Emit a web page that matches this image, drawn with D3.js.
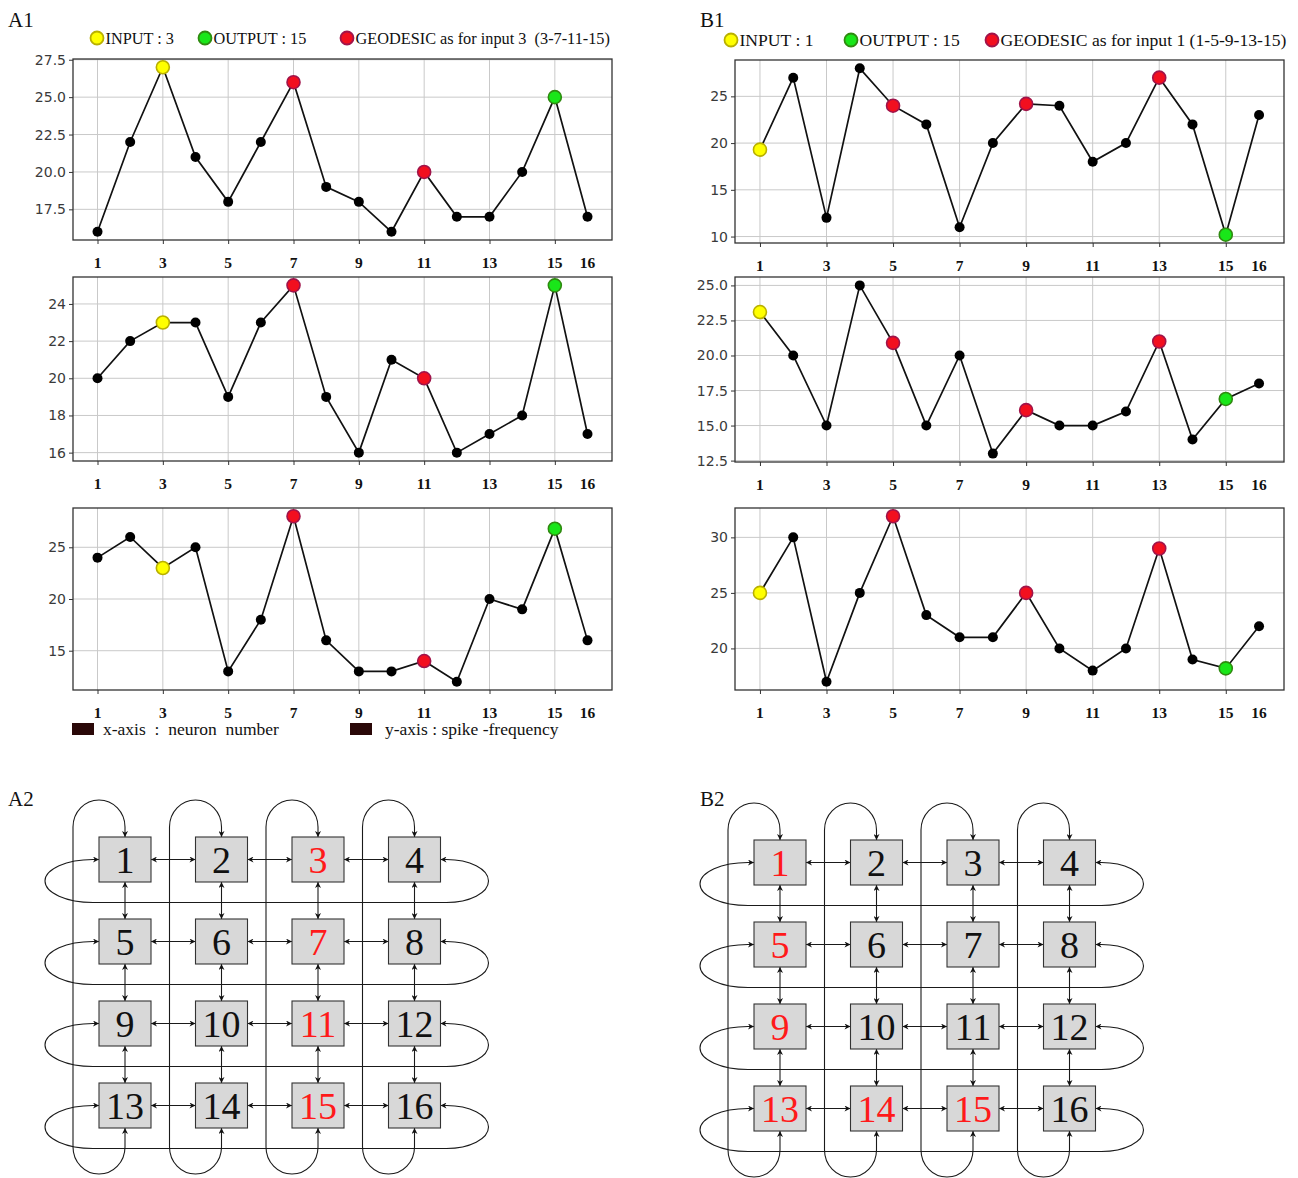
<!DOCTYPE html>
<html><head><meta charset="utf-8">
<script src="https://cdn.jsdelivr.net/npm/d3@7/dist/d3.min.js"></script>
<style>body{margin:0;background:#fff}svg{display:block}</style>
</head><body>
<svg id="fig" width="1298" height="1178"></svg>
<script>
// ---------------- data ----------------
const neurons = [1,2,3,4,5,6,7,8,9,10,11,12,13,14,15,16];
const a1Top = [16,22,27,21,18,22,26,19,18,16,20,17,17,20,25,17];
const a1Mid = [20,22,23,23,19,23,25,19,16,21,20,16,17,18,25,17];
const a1Bot = [24,26,23,25,13,18,28,16,13,13,14,12,20,19,26.8,16];
const b1Top = [19.3,27,12,28,24,22,11,20,24.2,24,18,20,27,22,10.2,23];
const b1Mid = [23.1,20,15,25,20.9,15,20,13,16.1,15,15,16,21,14,16.9,18];
const b1Bot = [25,30,17,25,31.9,23,21,21,25,20,18,20,29,19,18.2,22];
const a1TopTicks = [17.5,20,22.5,25,27.5];
const a1MidTicks = [16,18,20,22,24];
const a1BotTicks = [15,20,25];
const b1TopTicks = [10,15,20,25];
const b1MidTicks = [12.5,15,17.5,20,22.5,25];
const b1BotTicks = [20,25,30];
const xGridValues = [1,3,5,7,9,11,13,15];
const xTickLabels = [1,3,5,7,9,11,13,15,16];
const inputA = 3, outputA = 15, geodesicA = [7,11];
const inputB = 1, outputB = 15, geodesicB = [5,9,13];
const legendA = ["INPUT : 3","OUTPUT : 15","GEODESIC as for input 3  (3-7-11-15)"];
const legendB = ["INPUT : 1","OUTPUT : 15","GEODESIC as for input 1 (1-5-9-13-15)"];
const axisNotes = ["x-axis  :  neuron  number","y-axis : spike -frequency"];
const gridNodes = [1,2,3,4,5,6,7,8,9,10,11,12,13,14,15,16];
const redA2 = [3,7,11,15];
const redB2 = [1,5,9,13,14,15];

// ---------------- styles ----------------
const SERIF = "'Liberation Serif','Times New Roman',serif";
const SANS = "'DejaVu Sans',sans-serif";
const COL = {
  yellow:{fill:"#ffff00",stroke:"#b9b000"},
  green:{fill:"#19e619",stroke:"#2f8a10"},
  red:{fill:"#f20f1f",stroke:"#a0144a"}
};
const svg = d3.select("#fig");

function panel(opt){
  const g = svg.append("g");
  const x = d3.scaleLinear().domain([0.25,16.75]).range([opt.x0,opt.x1]);
  const [mn,mx] = d3.extent(opt.values);
  const pad = (mx-mn)*0.05;
  const y = d3.scaleLinear().domain([mn-pad,mx+pad]).range([opt.y1,opt.y0]);
  g.selectAll(".gx").data(xGridValues).join("line")
    .attr("x1",d=>x(d)).attr("x2",d=>x(d)).attr("y1",opt.y0).attr("y2",opt.y1)
    .attr("stroke","#c9c9c9").attr("stroke-width",1);
  g.selectAll(".gy").data(opt.ticks).join("line")
    .attr("x1",opt.x0).attr("x2",opt.x1).attr("y1",d=>y(d)).attr("y2",d=>y(d))
    .attr("stroke","#c9c9c9").attr("stroke-width",1);
  const ya = g.append("g").attr("transform",`translate(${opt.x0},0)`)
    .call(d3.axisLeft(y).tickValues(opt.ticks).tickFormat(d3.format(opt.fmt)).tickSize(4).tickPadding(3));
  ya.select(".domain").remove();
  ya.selectAll("line").attr("stroke","#333");
  ya.selectAll("text").attr("font-family",SANS).attr("font-size",14).attr("fill","#3a3a3a");
  const xa = g.append("g").attr("transform",`translate(0,${opt.y1})`)
    .call(d3.axisBottom(x).tickValues(xGridValues).tickFormat("").tickSize(4));
  xa.select(".domain").remove();
  xa.selectAll("line").attr("stroke","#333");
  g.selectAll(".xl").data(xTickLabels).join("text")
    .attr("x",d=>x(d)).attr("y",opt.y1+28).attr("text-anchor","middle")
    .attr("font-family",SERIF).attr("font-weight","bold").attr("font-size",15.5)
    .attr("fill","#111").text(d=>d);
  g.append("rect").attr("x",opt.x0).attr("y",opt.y0)
    .attr("width",opt.x1-opt.x0).attr("height",opt.y1-opt.y0)
    .attr("fill","none").attr("stroke","#333").attr("stroke-width",1.3);
  const pts = neurons.map((n,i)=>[n,opt.values[i]]);
  g.append("path").datum(pts)
    .attr("d",d3.line().x(d=>x(d[0])).y(d=>y(d[1])))
    .attr("fill","none").attr("stroke","#111").attr("stroke-width",1.7);
  const kind = n => n===opt.input?"yellow":n===opt.output?"green":opt.geo.includes(n)?"red":null;
  g.selectAll(".pt").data(pts.filter(p=>!kind(p[0]))).join("circle")
    .attr("cx",d=>x(d[0])).attr("cy",d=>y(d[1])).attr("r",5).attr("fill","#000");
  g.selectAll(".hp").data(pts.filter(p=>kind(p[0]))).join("circle")
    .attr("cx",d=>x(d[0])).attr("cy",d=>y(d[1])).attr("r",6.5)
    .attr("fill",d=>COL[kind(d[0])].fill).attr("stroke",d=>COL[kind(d[0])].stroke).attr("stroke-width",1.6);
}

function legend(items, xs, cy, size){
  const keys = ["yellow","green","red"];
  items.forEach((t,i)=>{
    svg.append("circle").attr("cx",xs[i]).attr("cy",cy).attr("r",6.5)
      .attr("fill",COL[keys[i]].fill).attr("stroke",COL[keys[i]].stroke).attr("stroke-width",1.8);
    svg.append("text").attr("x",xs[i]+8.5).attr("y",cy+5.5).attr("xml:space","preserve")
      .style("white-space","pre")
      .attr("font-family",SERIF).attr("font-size",size).attr("fill","#111").text(t);
  });
}

function label(t,x,y){
  svg.append("text").attr("x",x).attr("y",y).attr("font-family",SERIF)
    .attr("font-size",21).attr("fill","#111").text(t);
}

// ---------------- charts ----------------
label("A1",8,27); label("B1",700,27); label("A2",8,806); label("B2",700,806);
legend(legendA,[97,205,347],38,16.3);
legend(legendB,[731,851,992],40,17.6);

const rowsY = [[59,240],[277,461],[508,690]];
const rowsYB = [[60,243],[277,462],[508,690]];
[[a1Top,a1TopTicks,".1f"],[a1Mid,a1MidTicks,"d"],[a1Bot,a1BotTicks,"d"]].forEach((p,i)=>
  panel({x0:73,x1:612,y0:rowsY[i][0],y1:rowsY[i][1],values:p[0],ticks:p[1],fmt:p[2],
         input:inputA,output:outputA,geo:geodesicA}));
[[b1Top,b1TopTicks,"d"],[b1Mid,b1MidTicks,".1f"],[b1Bot,b1BotTicks,"d"]].forEach((p,i)=>
  panel({x0:735,x1:1284,y0:rowsYB[i][0],y1:rowsYB[i][1],values:p[0],ticks:p[1],fmt:p[2],
         input:inputB,output:outputB,geo:geodesicB}));

[[72,axisNotes[0],103],[350,axisNotes[1],385]].forEach(([sx,t,tx])=>{
  svg.append("rect").attr("x",sx).attr("y",723).attr("width",22).attr("height",12).attr("fill","#2a0808");
  svg.append("text").attr("x",tx).attr("y",735).attr("xml:space","preserve").style("white-space","pre")
    .attr("font-family",SERIF).attr("font-size",17.5).attr("fill","#111").text(t);
});

// ---------------- network grids ----------------
const defs = svg.append("defs");
defs.append("marker").attr("id","ah").attr("viewBox","0 0 10 10").attr("refX",10).attr("refY",5)
  .attr("markerWidth",8).attr("markerHeight",6).attr("markerUnits","userSpaceOnUse")
  .attr("orient","auto-start-reverse")
  .append("path").attr("d","M0,0 L10,5 L0,10 L3,5 Z").attr("fill","#111");

function grid(ox, oy, reds){
  const g = svg.append("g");
  const W = 52, H = 45, dx = 96.5, dy = 82;
  const cx = d3.scaleLinear().domain([0,3]).range([ox, ox+3*dx]);
  const cy = d3.scaleLinear().domain([0,3]).range([oy, oy+3*dy]);
  const st = {stroke:"#1a1a1a","stroke-width":1.1,fill:"none"};
  const path = d => { const p=g.append("path").attr("d",d).attr("marker-start","url(#ah)").attr("marker-end","url(#ah)");
    Object.entries(st).forEach(([k,v])=>p.attr(k,v)); };
  for(let r=0;r<4;r++){
    const y = cy(r), L = cx(0)-W/2, R = cx(3)+W/2;
    path(`M${L},${y} H${L-6} A48,21.5 0 0 0 ${L-6},${y+43} H${R+6} A42,21.5 0 0 0 ${R+6},${y} H${R}`);
  }
  for(let c=0;c<4;c++){
    const x = cx(c), T = cy(0)-H/2, B = cy(3)+H/2;
    path(`M${x},${T} V${T-10} A26,27 0 0 0 ${x-52},${T-10} V${B+19} A26,27 0 0 0 ${x},${B+19} V${B}`);
  }
  for(let r=0;r<4;r++) for(let c=0;c<3;c++)
    path(`M${cx(c)+W/2},${cy(r)} H${cx(c+1)-W/2}`);
  for(let c=0;c<4;c++) for(let r=0;r<3;r++)
    path(`M${cx(c)},${cy(r)+H/2} V${cy(r+1)-H/2}`);
  gridNodes.forEach((n,i)=>{
    const r = Math.floor(i/4), c = i%4;
    g.append("rect").attr("x",cx(c)-W/2).attr("y",cy(r)-H/2).attr("width",W).attr("height",H)
      .attr("fill","#d8d8d8").attr("stroke","#333").attr("stroke-width",1.1);
    g.append("text").attr("x",cx(c)).attr("y",cy(r)+13.5).attr("text-anchor","middle")
      .attr("font-family",SERIF).attr("font-size",38)
      .attr("fill",reds.includes(n)?"#ff1a1a":"#111").text(n);
  });
}
grid(125, 859.5, redA2);
grid(780, 862.5, redB2);
</script>
</body></html>
